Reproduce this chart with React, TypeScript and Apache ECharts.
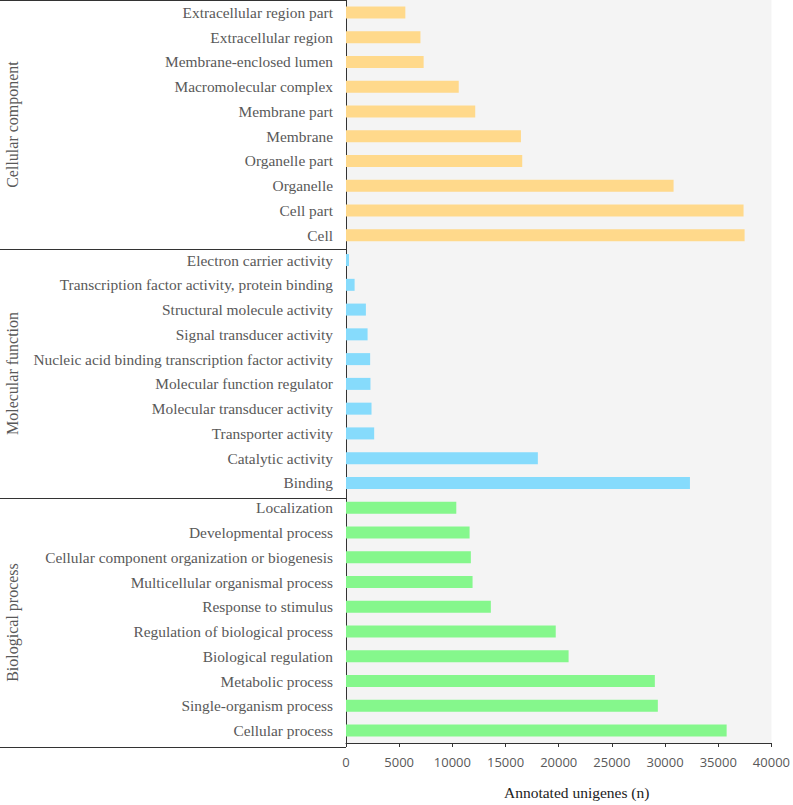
import React, { useEffect, useRef } from "react";
import * as echarts from "echarts";

const groupNames = ["Cellular component", "Molecular function", "Biological process"];
const groupColors = ["#FFD98B", "#86DBFC", "#85F78C"];

const ccCategories = [
  "Extracellular region part",
  "Extracellular region",
  "Membrane-enclosed lumen",
  "Macromolecular complex",
  "Membrane part",
  "Membrane",
  "Organelle part",
  "Organelle",
  "Cell part",
  "Cell",
];
const ccValues = [5580, 7000, 7300, 10600, 12150, 16450, 16570, 30800, 37380, 37480];

const mfCategories = [
  "Electron carrier activity",
  "Transcription factor activity, protein binding",
  "Structural molecule activity",
  "Signal transducer activity",
  "Nucleic acid binding transcription factor activity",
  "Molecular function regulator",
  "Molecular transducer activity",
  "Transporter activity",
  "Catalytic activity",
  "Binding",
];
const mfValues = [280, 810, 1870, 2030, 2270, 2300, 2400, 2650, 18040, 32340];

const bpCategories = [
  "Localization",
  "Developmental process",
  "Cellular component organization or biogenesis",
  "Multicellular organismal process",
  "Response to stimulus",
  "Regulation of biological process",
  "Biological regulation",
  "Metabolic process",
  "Single-organism process",
  "Cellular process",
];
const bpValues = [10370, 11620, 11740, 11900, 13620, 19720, 20930, 29040, 29320, 35790];

const xTicks = { min: 0, max: 40000, interval: 5000 };
const xAxisTitle = "Annotated unigenes (n)";

export default function App() {
  const ref = useRef<HTMLDivElement>(null);

  useEffect(() => {
    if (!ref.current) return;
    const chart = echarts.init(ref.current, undefined, { renderer: "svg" });

    const groups = [
      { cats: ccCategories, vals: ccValues },
      { cats: mfCategories, vals: mfValues },
      { cats: bpCategories, vals: bpValues },
    ];
    const categories: string[] = [];
    const data: any[] = [];
    groups.forEach((g, gi) => {
      g.cats.forEach((c, i) => {
        categories.push(c);
        data.push({ value: g.vals[i], itemStyle: { color: groupColors[gi] } });
      });
    });

    const H = 805;
    const gridLeft = 346;
    const gridTop = 0;
    const gridRight = 19;
    const gridBottom = 58;
    const plotH = H - gridTop - gridBottom;
    const n = categories.length;
    const rowH = plotH / n;

    const graphics: any[] = [];
    let start = 0;
    const boundaries: number[] = [gridTop + 0.5];
    groups.forEach((g, gi) => {
      const end = start + g.cats.length;
      const yMid = gridTop + ((start + end) / 2) * rowH;
      graphics.push({
        type: "text",
        x: 12,
        y: yMid,
        rotation: Math.PI / 2,
        style: {
          text: groupNames[gi],
          align: "center",
          verticalAlign: "middle",
          font: '16px "Liberation Serif"',
          fill: "#595959",
        },
      });
      boundaries.push(Math.round(gridTop + end * rowH) + 0.5);
      start = end;
    });
    boundaries.forEach((y) => {
      graphics.push({
        type: "line",
        shape: { x1: 0, y1: y, x2: gridLeft, y2: y },
        style: { stroke: "#333", lineWidth: 1 },
      });
    });

    chart.setOption({
      animation: false,
      grid: {
        left: gridLeft,
        top: gridTop,
        right: gridRight,
        bottom: gridBottom,
        show: true,
        backgroundColor: "#F4F4F4",
        borderWidth: 0,
        containLabel: false,
      },
      xAxis: {
        type: "value",
        min: xTicks.min,
        max: xTicks.max,
        interval: xTicks.interval,
        axisLine: { show: true, lineStyle: { color: "#333", width: 1 } },
        axisTick: { show: true, length: 4, lineStyle: { color: "#333" } },
        splitLine: { show: false },
        axisLabel: {
          margin: 12,
          fontFamily: "Open Sans",
          fontSize: 13,
          color: "#595959",
          formatter: (v: number) => String(v),
        },
        name: xAxisTitle,
        nameLocation: "middle",
        nameGap: 41,
        nameTextStyle: {
          fontFamily: "Liberation Serif",
          fontSize: 15.5,
          color: "#222",
          padding: [0, 0, 0, 36],
        },
      },
      yAxis: {
        type: "category",
        data: categories,
        inverse: true,
        axisLine: { show: true, lineStyle: { color: "#333", width: 1 } },
        axisTick: { show: false },
        axisLabel: {
          margin: 13,
          fontFamily: "Liberation Serif",
          fontSize: 15.4,
          color: "#595959",
        },
      },
      series: [
        {
          type: "bar",
          data,
          barWidth: 12,
        },
      ],
      graphic: graphics,
    });

    return () => chart.dispose();
  }, []);

  return <div ref={ref} style={{ width: 793, height: 805, position: "absolute", left: 0, top: 0 }} />;
}
